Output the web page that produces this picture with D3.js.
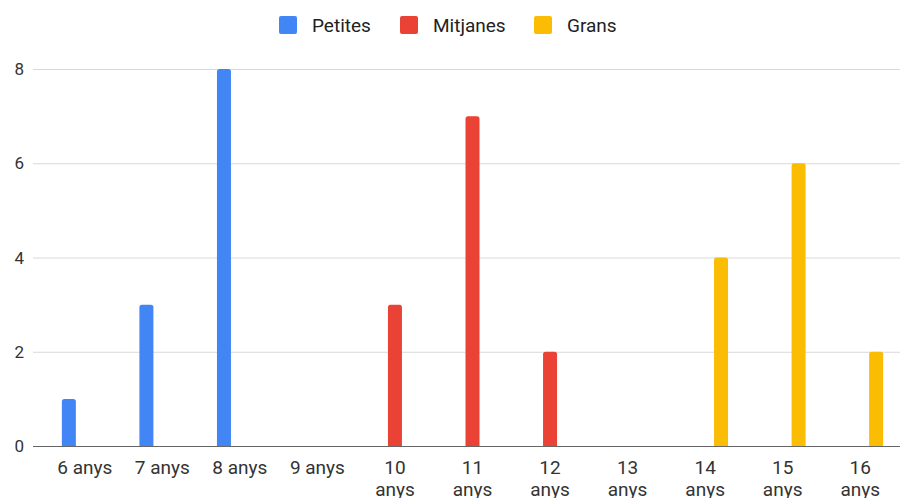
<!DOCTYPE html>
<html>
<head>
<meta charset="utf-8">
<script src="https://cdn.jsdelivr.net/npm/d3@7"></script>
<style>
  body { margin: 0; background: #fff; }
  text { font-family: Roboto, "Liberation Sans", sans-serif; }
</style>
</head>
<body>
<svg id="chart" width="901" height="498"></svg>
<script>

const categories = ["6 anys", "7 anys", "8 anys", "9 anys", "10 anys", "11 anys",
                    "12 anys", "13 anys", "14 anys", "15 anys", "16 anys"];
const seriesNames = ["Petites", "Mitjanes", "Grans"];
const seriesColors = ["#4285f4", "#ea4335", "#fbbc04"];
const petites  = [1, 3, 8, 0, 0, 0, 0, 0, 0, 0, 0];
const mitjanes = [0, 0, 0, 0, 3, 7, 2, 0, 0, 0, 0];
const grans    = [0, 0, 0, 0, 0, 0, 0, 0, 4, 6, 2];
const yTicks = [0, 2, 4, 6, 8];

const series = [petites, mitjanes, grans];

let svg = d3.select("#chart");

let x = d3.scaleBand()
  .domain(categories)
  .range([46, 899])
  .paddingInner(0.36)
  .paddingOuter(0.18);

let xs = d3.scaleBand()
  .domain(seriesNames)
  .range([0, x.bandwidth()])
  .padding(0.12);

let y = d3.scaleLinear()
  .domain([0, 8])
  .range([446, 69]);

// gridlines + y labels
let grid = svg.append("g").classed("grid", true);

grid.selectAll("line")
  .data(yTicks.filter(d => d > 0))
  .enter().append("line")
  .attr("x1", 33).attr("x2", 900)
  .attr("y1", d => y(d) + 0.5).attr("y2", d => y(d) + 0.5)
  .attr("stroke", "#d9d9d9")
  .attr("stroke-width", 1);

grid.selectAll("text")
  .data(yTicks)
  .enter().append("text")
  .attr("x", 24)
  .attr("y", d => y(d))
  .attr("dy", "0.36em")
  .attr("text-anchor", "end")
  .attr("font-size", 17)
  .attr("fill", "#333")
  .text(d => d);

// bars
let barPath = (x0, w, top, bottom) => {
  let r = Math.min(2.5, (bottom - top) / 2);
  return `M${x0},${bottom}V${top + r}Q${x0},${top} ${x0 + r},${top}` +
         `H${x0 + w - r}Q${x0 + w},${top} ${x0 + w},${top + r}V${bottom}Z`;
};

let barData = [];
series.forEach((vals, si) => {
  vals.forEach((v, ci) => {
    if (v > 0) barData.push({ cat: categories[ci], name: seriesNames[si], color: seriesColors[si], value: v });
  });
});

svg.append("g").classed("bars", true)
  .selectAll("path")
  .data(barData)
  .enter().append("path")
  .attr("fill", d => d.color)
  .attr("d", d => barPath(x(d.cat) + xs(d.name), xs.bandwidth(), y(d.value), y(0)));

// baseline
svg.append("line")
  .attr("x1", 33).attr("x2", 900)
  .attr("y1", y(0) + 0.5).attr("y2", y(0) + 0.5)
  .attr("stroke", "#666")
  .attr("stroke-width", 1.2);

// x labels, wrapped when too wide
let xl = svg.append("g").classed("xlabels", true);
categories.forEach(c => {
  let t = xl.append("text")
    .attr("x", x(c) + x.bandwidth() / 2)
    .attr("y", 474)
    .attr("text-anchor", "middle")
    .attr("font-size", 19)
    .attr("fill", "#333")
    .text(c);
  if (t.node().getComputedTextLength() > x.step() * 0.8) {
    let words = c.split(" ");
    t.text(null);
    words.forEach((w, i) => {
      t.append("tspan")
        .attr("x", x(c) + x.bandwidth() / 2)
        .attr("dy", i === 0 ? 0 : 21.5)
        .text(w);
    });
  }
});

// legend
let legendX = [279, 400, 534];
let legend = svg.append("g").classed("legend", true)
  .selectAll("g")
  .data(seriesNames)
  .enter().append("g")
  .attr("transform", (d, i) => `translate(${legendX[i]},16)`);

legend.append("rect")
  .attr("width", 18).attr("height", 18)
  .attr("rx", 2)
  .attr("fill", (d, i) => seriesColors[i]);

legend.append("text")
  .attr("x", 33)
  .attr("y", 9)
  .attr("dy", "0.36em")
  .attr("font-size", 19)
  .attr("fill", "#222")
  .text(d => d);

</script>
</body>
</html>
